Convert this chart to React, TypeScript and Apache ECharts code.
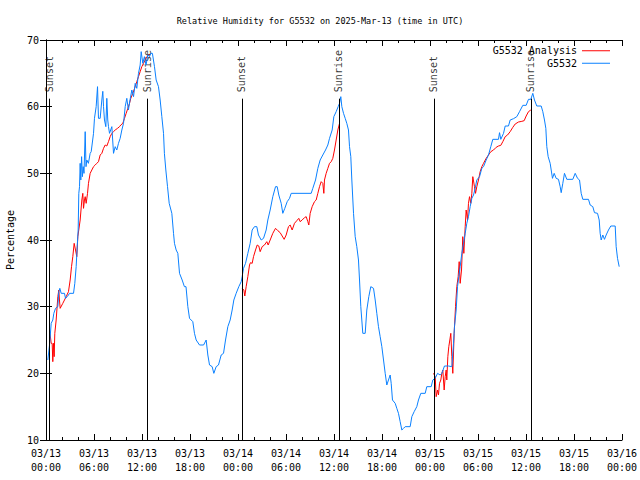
import React, { useEffect, useRef } from "react";
import * as echarts from "echarts";

// Hours since 2025-03-13 00:00 UTC, relative humidity (%)
const OBS_HOURS = [
  0.23, 0.44, 0.65, 0.85, 0.98, 1.19, 1.48, 1.6, 1.73, 1.9, 2.31, 2.44, 2.65, 2.81, 2.94, 3.44, 3.6, 3.77, 3.9, 4.02,
  4.1, 4.19, 4.27, 4.35, 4.45, 4.55, 4.65, 4.75, 4.9, 5.0, 5.1, 5.3, 5.52, 5.65, 5.94, 6.06, 6.27, 6.44, 6.56, 6.77,
  6.98, 7.1, 7.19, 7.31, 7.48, 7.6, 7.72, 7.81, 7.94, 8.23, 8.44, 8.65, 8.85, 9.06, 9.27, 9.48, 9.69, 9.9, 10.1, 10.3,
  10.5, 10.73, 10.94, 11.15, 11.35, 11.56, 11.77, 11.9, 12.1, 12.3, 12.5, 12.73, 12.94, 13.1, 13.3, 13.56, 13.77, 14.06, 14.27, 14.48,
  14.69, 14.8, 14.98, 15.19, 15.4, 15.73, 15.94, 16.06, 16.27, 16.48, 16.69, 17.02, 17.3, 17.5, 17.73, 17.94, 18.35, 18.56, 18.77, 19.19,
  19.7, 20.02, 20.23, 20.44, 20.77, 20.98, 21.27, 21.56, 21.9, 22.19, 22.44, 22.73, 23.02, 23.27, 23.48, 23.77, 24.1, 24.4, 24.52, 24.69,
  24.94, 25.23, 25.52, 25.77, 26.06, 26.35, 26.56, 26.9, 27.19, 27.52, 27.73, 28.02, 28.35, 28.69, 28.9, 29.1, 29.4, 29.6, 29.85, 30.15,
  30.44, 30.65, 33.15, 33.35, 33.69, 33.98, 34.27, 34.6, 34.94, 35.23, 35.44, 35.77, 35.98, 36.27, 36.52, 36.69, 36.85, 36.98, 37.19, 37.4,
  37.6, 37.81, 37.94, 38.1, 38.23, 38.44, 38.65, 38.85, 39.06, 39.19, 39.35, 39.6, 39.9, 40.1, 40.35, 40.6, 40.94, 41.15, 41.35, 41.56,
  41.77, 41.98, 42.19, 42.4, 42.6, 42.81, 43.02, 43.15, 43.31, 43.65, 43.85, 44.06, 44.27, 44.48, 44.69, 44.9, 45.52, 45.73, 46.02, 46.35,
  46.56, 46.85, 47.4, 47.6, 48.15, 48.35, 48.65, 48.94, 49.27, 49.48, 49.81, 50.31, 50.73, 50.94, 51.06, 51.27, 51.44, 51.6, 51.77, 51.98,
  52.19, 52.4, 52.6, 52.81, 53.02, 53.23, 53.44, 53.65, 53.85, 54.19, 54.48, 54.69, 55.02, 55.31, 55.6, 55.85, 56.56, 56.69, 56.85, 57.19,
  57.4, 57.81, 58.02, 58.44, 58.85, 59.19, 59.6, 60.02, 60.31, 60.6, 60.85, 61.06, 61.35, 61.9, 62.1, 62.31, 62.48, 62.6, 62.77, 63.02,
  63.15, 63.31, 63.52, 63.77, 64.06, 64.27, 64.4, 64.6, 64.81, 65.1, 65.85, 66.15, 66.44, 66.69, 66.9, 67.1, 67.81, 68.02, 68.35, 68.56,
  68.94, 69.15, 69.27, 69.4, 69.6, 69.81, 70.02, 70.31, 70.6, 71.15, 71.27, 71.44, 71.65,
];
const OBS_VALUES = [
  22, 24.25, 27.5, 28, 29, 29.75, 30, 32.25, 32.75, 32, 32, 31.25, 31.5, 31.75, 32, 32, 33.5, 36, 39, 41.5,
  47, 48, 51.5, 49, 52.5, 49.5, 51, 50, 56.25, 51, 52, 51.5, 53, 53.25, 56, 58.25, 60, 63, 58.25, 58.25,
  61, 62.3, 60, 58, 57, 61.25, 58, 57, 56, 57, 53, 54, 53.5, 54.5, 55.25, 56.5, 57.5, 60, 61.25, 59.5,
  61, 62.5, 61.5, 63.5, 62.75, 65, 66.25, 68.25, 66.5, 67.5, 66.25, 67.75, 67.5, 68, 68, 66, 64, 63, 61, 58.5,
  56, 53, 50.5, 48, 45.5, 44, 41, 39.5, 38.5, 38, 35, 34, 33, 33, 30, 28.25, 27.75, 26, 25, 24.25,
  24.25, 25, 22.75, 21.25, 21, 20, 21, 21.25, 22.75, 23, 25, 27, 28, 29.5, 31, 32, 33, 33.75, 34.5, 35.75,
  36.5, 38, 39.5, 41.5, 42, 42, 40.75, 40, 40.25, 41.5, 43, 44.5, 46.5, 48, 48, 46.75, 45.5, 44, 44.75, 45.75,
  46.25, 47, 47, 47.75, 49, 50.75, 52, 52.75, 53.5, 54.25, 55.25, 56.5, 58.5, 59.25, 60, 60.5, 61.5, 60, 59, 58.25,
  57.5, 56.5, 54, 52.5, 49, 44, 40.5, 39, 37, 34, 30, 26, 26, 29.5, 31.5, 33, 32.75, 31, 29, 27,
  25.5, 24, 22, 20, 18.25, 19, 19.75, 18.5, 16, 15.5, 14.75, 14, 12.75, 11.5, 11.75, 12, 12, 13.5, 14.25, 15,
  16, 17, 17, 18, 18, 19, 19.25, 20, 19.75, 20, 21.1, 21.1, 21, 24.5, 27, 29.5, 33, 34.5, 36, 38,
  39.5, 41, 42.5, 43.5, 45, 46.25, 46.75, 47.75, 49, 49.5, 50.75, 51, 52, 52.75, 54, 55.1, 55.1, 56.1, 55.1, 56,
  57.1, 57.1, 58, 58.2, 58.5, 59.25, 60.2, 60.2, 61.1, 61.1, 62, 61, 60.1, 60.1, 59.25, 58, 56.75, 54, 52.5, 51.5,
  50.5, 49.25, 50, 49.25, 49.1, 48, 47.1, 48.5, 50, 49.1, 49.1, 50, 49.25, 49, 47, 46.1, 46.1, 45.25, 45, 44.1,
  44, 43, 41, 40, 40.75, 40.1, 40.75, 41.5, 42.1, 42.1, 39, 37.25, 36,
];

const ANA1_HOURS = [
  0.5, 0.65, 0.77, 0.85, 0.94, 1.02, 1.1, 1.27, 1.48, 1.6, 1.68, 1.77, 2.1, 2.31, 2.52, 2.81, 3.02, 3.19, 3.35, 3.52,
  3.69, 3.85, 3.98, 4.06, 4.27, 4.48, 4.6, 4.69, 4.81, 4.9, 5.02, 5.19, 5.31, 5.52, 5.73, 5.94, 6.15, 6.35, 6.56, 6.77,
  6.98, 7.19, 7.4, 7.6, 7.81, 8.02, 8.23, 8.44, 8.65, 8.94, 9.19, 9.35, 9.6, 9.81, 10.02, 10.23, 10.44, 10.6, 10.85, 11.15,
  11.35, 11.56, 11.77, 11.98, 12.19, 12.4, 12.6, 12.81, 13.0,
];
const ANA1_VALUES = [
  26, 24.5, 24.5, 21.75, 24.5, 22.5, 26, 28, 31.5, 32.5, 31, 29.75, 30.5, 31, 31.5, 32.25, 34, 36, 37.5, 39.5,
  38.5, 37.5, 40.5, 40.5, 43, 46, 47, 44.75, 46, 46.5, 45.5, 47, 48.5, 50, 50.5, 51, 51.25, 51.5, 51.75, 52.75,
  53, 53.75, 54.25, 54.1, 54.75, 55.5, 56, 56.25, 56.5, 56.75, 57, 57.25, 57.5, 58.25, 59, 59.75, 60.5, 61.25, 62, 63,
  63.75, 64.5, 65.25, 66, 66.5, 67, 67.5, 67.75, 67.75,
];

const ANA2_HOURS = [
  24.52, 24.73, 24.85, 25.02, 25.23, 25.44, 25.56, 25.77, 25.94, 26.19, 26.4, 26.6, 26.77, 27.02, 27.31, 27.6, 27.77, 28.02, 28.35, 28.69,
  28.98, 29.27, 29.52, 29.77, 30.02, 30.31, 30.52, 30.77, 31.06, 31.35, 31.6, 31.77, 32.02, 32.31, 32.52, 32.73, 32.85, 33.02, 33.27, 33.56,
  33.77, 33.98, 34.19, 34.4, 34.6, 34.73, 34.81, 35.02, 35.23, 35.44, 35.65, 35.85, 36.06, 36.27, 36.48, 36.69,
];
const ANA2_VALUES = [
  32.75, 32.5, 31.6, 33, 34.5, 36.25, 36.6, 36.5, 37.5, 38.5, 39.25, 39.1, 38.25, 39, 39.25, 39.75, 39.25, 40, 41, 41.75,
  41.4, 41.1, 40.6, 40.1, 40.75, 42, 42.25, 41.5, 42.5, 42.9, 43.25, 42.75, 43, 43.35, 43.5, 42.75, 42.25, 44, 45, 45.75,
  46, 47, 48, 48.75, 48.5, 47, 49, 50, 50.75, 51.5, 51.75, 52.25, 53.5, 55, 56.5, 57.5,
];

const ANA3_HOURS = [
  48.44, 48.65, 48.77, 48.94, 49.06, 49.19, 49.35, 49.48, 49.6, 49.77, 49.9, 50.02, 50.1, 50.23, 50.35, 50.48, 50.6, 50.73, 50.85, 51.02,
  51.19, 51.35, 51.52, 51.65, 51.77, 51.94, 52.1, 52.23, 52.4, 52.52, 52.69, 52.81, 52.94, 53.1, 53.23, 53.35, 53.56, 53.69, 53.85, 54.06,
  54.27, 54.48, 54.69, 55.02, 55.31, 55.6, 55.94, 56.27, 56.56, 56.85, 57.1, 57.4, 57.69, 58.02, 58.35, 58.65, 59.06, 59.48, 59.77, 60.02,
  60.31, 60.6,
];
const ANA3_VALUES = [
  20, 19.5, 16.5, 17.5, 16.75, 18.5, 19, 20, 20.5, 17.5, 19.5, 20.5, 19, 22.5, 24, 25, 26, 22.5, 20, 26,
  30, 33, 34.5, 36.75, 33.5, 35.5, 40.5, 38, 42, 44.5, 43, 45.5, 46.5, 45.5, 47, 49.5, 48, 47, 48, 49,
  50.25, 51, 51.5, 52.25, 52.75, 53.25, 53.5, 53.9, 54.1, 54.2, 54.75, 55.5, 55.75, 56.25, 56.9, 57.4, 57.7, 57.8, 57.9, 58.6,
  59.25, 59.5,
];

const EVENT_HOURS = [0.44, 12.7, 24.48, 36.6, 48.48, 60.6];
const EVENT_LABELS = ["Sunset", "Sunrise", "Sunset", "Sunrise", "Sunset", "Sunrise"];
const EVENT_LINE_TOP = 61.2;

const X_TICK_LABELS = [
  "03/13\n00:00", "03/13\n06:00", "03/13\n12:00", "03/13\n18:00",
  "03/14\n00:00", "03/14\n06:00", "03/14\n12:00", "03/14\n18:00",
  "03/15\n00:00", "03/15\n06:00", "03/15\n12:00", "03/15\n18:00",
  "03/16\n00:00",
];

const TITLE = "Relative Humidity for G5532 on 2025-Mar-13 (time in UTC)";
const OBS_NAME = "G5532";
const ANA_NAME = "G5532 Analysis";

const FONT = "DejaVu Sans Mono";
const RED = "#ff0000";
const BLUE = "#0a80ff";

const zip = (xs: number[], ys: number[]) => xs.map((x, i) => [x, ys[i]]);

export default function App() {
  const ref = useRef<HTMLDivElement>(null);
  useEffect(() => {
    document.body.style.margin = "0";
    if (!ref.current) return;
    const chart = echarts.init(ref.current, null, { renderer: "svg" });

    const axisLine = { show: true, lineStyle: { color: "#000", width: 1 } };
    const xCommon = {
      type: "value" as const,
      min: 0,
      max: 72,
      interval: 6,
      axisLine,
      axisTick: { show: true, inside: true, length: 6, lineStyle: { color: "#000" } },
      minorTick: { show: true, splitNumber: 3, length: 3, lineStyle: { color: "#000" } },
      splitLine: { show: false },
      minorSplitLine: { show: false },
    };
    const yCommon = {
      type: "value" as const,
      min: 10,
      max: 70,
      interval: 10,
      axisLine,
      axisTick: { show: true, inside: true, length: 6, lineStyle: { color: "#000" } },
      splitLine: { show: false },
    };

    const anaSeries = [
      zip(ANA1_HOURS, ANA1_VALUES),
      zip(ANA2_HOURS, ANA2_VALUES),
      zip(ANA3_HOURS, ANA3_VALUES),
    ].map((d) => ({
      name: ANA_NAME,
      type: "line" as const,
      data: d,
      symbol: "none",
      lineStyle: { color: RED, width: 1 },
      itemStyle: { color: RED },
      z: 3,
    }));

    chart.setOption({
      animation: false,
      backgroundColor: "#fff",
      title: {
        text: TITLE,
        left: "center",
        top: 11,
        textStyle: { fontFamily: FONT, fontSize: 8.5, fontWeight: "normal", color: "#000" },
      },
      legend: {
        data: [
          { name: ANA_NAME, icon: "rect", itemStyle: { color: RED } },
          { name: OBS_NAME, icon: "rect", itemStyle: { color: BLUE } },
        ],
        orient: "vertical",
        align: "right",
        right: 30,
        top: 45,
        itemWidth: 28,
        itemHeight: 1,
        itemGap: 1,
        padding: 0,
        textStyle: { fontFamily: FONT, fontSize: 10, color: "#000", lineHeight: 11.5 },
      },
      grid: { left: 46, right: 18, top: 40, bottom: 40, containLabel: false, outerBoundsMode: "none" },
      xAxis: [
        {
          ...xCommon,
          position: "bottom",
          axisLabel: {
            show: true,
            showMinLabel: true,
            showMaxLabel: true,
            fontFamily: FONT,
            fontSize: 10,
            color: "#000",
            lineHeight: 14,
            margin: 6,
            formatter: (v: number) => X_TICK_LABELS[Math.round(v / 6)] ?? "",
          },
        },
        { ...xCommon, position: "top", axisLabel: { show: false } },
      ],
      yAxis: [
        {
          ...yCommon,
          position: "left",
          name: "Percentage",
          nameLocation: "middle",
          nameGap: 31,
          nameTextStyle: { fontFamily: FONT, fontSize: 10, color: "#000" },
          axisLabel: { fontFamily: FONT, fontSize: 10, color: "#000", margin: 7 },
        },
        { ...yCommon, position: "right", axisLabel: { show: false } },
      ],
      series: [
        {
          name: "events",
          type: "scatter",
          data: EVENT_HOURS.map((h, i) => ({ value: [h, EVENT_LINE_TOP], label: { formatter: EVENT_LABELS[i] } })),
          symbolSize: 1,
          itemStyle: { color: "transparent" },
          silent: true,
          z: 1,
          label: {
            show: true,
            position: "top",
            distance: 6,
            rotate: 90,
            align: "left",
            verticalAlign: "middle",
            fontFamily: FONT,
            fontSize: 10,
            color: "#000",
          },
          markLine: {
            silent: true,
            symbol: ["none", "none"],
            label: { show: false },
            lineStyle: { color: "#000", width: 1, type: "solid" },
            emphasis: { disabled: true },
            data: EVENT_HOURS.map((h) => [{ coord: [h, 10] }, { coord: [h, EVENT_LINE_TOP] }]),
          },
        },
        ...anaSeries,
        {
          name: OBS_NAME,
          type: "line",
          data: zip(OBS_HOURS, OBS_VALUES),
          symbol: "none",
          lineStyle: { color: BLUE, width: 1 },
          itemStyle: { color: BLUE },
          z: 4,
        },
      ],
    });
    return () => chart.dispose();
  }, []);
  return <div ref={ref} style={{ width: 640, height: 480 }} />;
}
